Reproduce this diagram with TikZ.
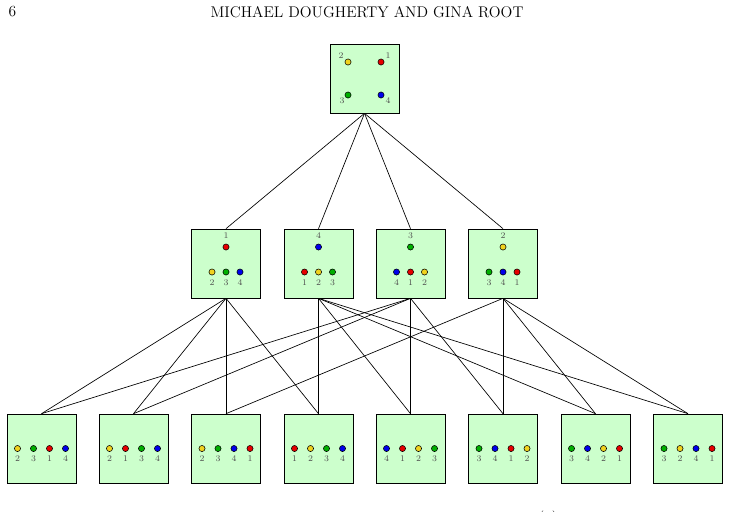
\documentclass[tikz,border=0pt]{standalone}
\usetikzlibrary{positioning, calc}
\usepackage{xcolor}

\definecolor{c1}{RGB}{230,0,0}
\definecolor{c2}{RGB}{240,210,30}
\definecolor{c3}{RGB}{0,175,0}
\definecolor{c4}{RGB}{0,0,235}
\definecolor{boxgreen}{RGB}{204,255,204}

\begin{document}
\begin{tikzpicture}[x=0.75pt, y=-0.75pt,
    box/.style={draw, rectangle, minimum size=51.75pt, fill=boxgreen, line width=0.5pt},
    dot/.style={draw, circle, minimum size=4.6pt, inner sep=0pt, line width=0.4pt},
    lbl/.style={font=\fontsize{6.5}{7}\selectfont, text=black!70, inner sep=0pt},
    edge/.style={line width=0.5pt}]
\useasboundingbox (0,0) rectangle (730,511);

% running head
\node[font=\fontsize{11.6}{13}\selectfont, anchor=west] (page) at (4,12) {6};
\node[font=\fontsize{11.6}{13}\selectfont] (head) at (367,12) {MICHAEL DOUGHERTY AND GINA ROOT};

% top
\node[box] (top) at (364.5,78.5) {};
\node[dot, fill=c1] (t1) at ($(top)+(16.5,-16.5)$) {};
\node[dot, fill=c2] (t2) at ($(top)+(-16.5,-16.5)$) {};
\node[dot, fill=c3] (t3) at ($(top)+(-16.5,16.5)$) {};
\node[dot, fill=c4] (t4) at ($(top)+(16.5,16.5)$) {};
\node[lbl] at ($(top)+(23.5,-22.5)$) {1};
\node[lbl] at ($(top)+(-23.5,-22.5)$) {2};
\node[lbl] at ($(top)+(-22.5,22.5)$) {3};
\node[lbl] at ($(top)+(23.5,22.5)$) {4};

% middle row
\node[box] (m1) at (226,263.5) {};
\node[box] (m2) at (318.5,263.5) {};
\node[box] (m3) at (410.5,263.5) {};
\node[box] (m4) at (503,263.5) {};

\foreach \m/\t/\seq in {m1/1/{2,3,4}, m2/4/{1,2,3}, m3/3/{4,1,2}, m4/2/{3,4,1}} {
    \node[dot, fill=c\t] at ($(\m)+(0,-16.5)$) {};
    \node[lbl] at ($(\m)+(0,-27.5)$) {\t};
    \foreach \k [count=\i] in \seq {
        \node[dot, fill=c\k] at ($(\m)+(\i*14-28,8.5)$) {};
        \node[lbl] at ($(\m)+(\i*14-28,19.5)$) {\k};
    }
}

% bottom row
\node[box] (b1) at (41.5,448.5) {};
\node[box] (b2) at (133.5,448.5) {};
\node[box] (b3) at (226,448.5) {};
\node[box] (b4) at (318.5,448.5) {};
\node[box] (b5) at (410.5,448.5) {};
\node[box] (b6) at (503,448.5) {};
\node[box] (b7) at (595.5,448.5) {};
\node[box] (b8) at (688,448.5) {};

\foreach \b/\seq in {b1/{2,3,1,4}, b2/{2,1,3,4}, b3/{2,3,4,1}, b4/{1,2,3,4},
                     b5/{4,1,2,3}, b6/{3,4,1,2}, b7/{3,4,2,1}, b8/{3,2,4,1}} {
    \foreach \k [count=\i] in \seq {
        \node[dot, fill=c\k] at ($(\b)+(\i*16-40,0)$) {};
        \node[lbl] at ($(\b)+(\i*16-40,10.5)$) {\k};
    }
}

% edges
\foreach \m in {m1,m2,m3,m4}
    \draw[edge] (top.south) -- (\m.north);
\foreach \b in {b1,b2,b3,b4}
    \draw[edge] (m1.south) -- (\b.north);
\foreach \b in {b4,b5,b7,b8}
    \draw[edge] (m2.south) -- (\b.north);
\foreach \b in {b1,b2,b5,b6}
    \draw[edge] (m3.south) -- (\b.north);
\foreach \b in {b3,b6,b7,b8}
    \draw[edge] (m4.south) -- (\b.north);

% caption, cut by the page edge
\node[font=\fontsize{11.6}{13}\selectfont, anchor=north] (cap) at (548,506) {(a)};
\end{tikzpicture}
\end{document}
